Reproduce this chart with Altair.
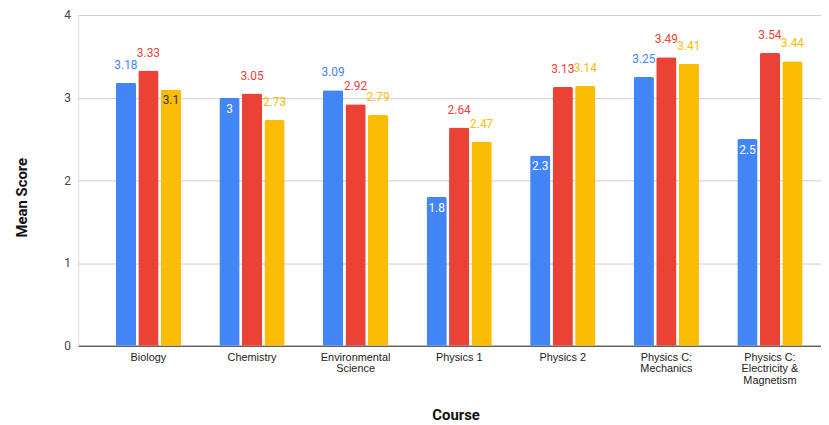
import altair as alt
import pandas as pd

courses = ["Biology", "Chemistry", "Environmental Science", "Physics 1",
           "Physics 2", "Physics C: Mechanics", "Physics C: Electricity & Magnetism"]
wrapped = [["Biology"], ["Chemistry"], ["Environmental", "Science"], ["Physics 1"],
           ["Physics 2"], ["Physics C:", "Mechanics"], ["Physics C:", "Electricity &", "Magnetism"]]
series_names = ["Series 1", "Series 2", "Series 3"]
series1 = [3.18, 3.0, 3.09, 1.8, 2.3, 3.25, 2.5]
series2 = [3.33, 3.05, 2.92, 2.64, 3.13, 3.49, 3.54]
series3 = [3.1, 2.73, 2.79, 2.47, 3.14, 3.41, 3.44]
colors = ["#4285F4", "#EA4335", "#FBBC04"]

# labels drawn inside the bar (course index, series index)
inside = {(1, 0), (3, 0), (4, 0), (6, 0), (0, 2)}

rows = []
for si, vals in enumerate([series1, series2, series3]):
    for ci, v in enumerate(vals):
        rows.append({"Course": courses[ci], "Series": series_names[si], "value": v,
                     "inside": (ci, si) in inside})
df = pd.DataFrame(rows)

# label expression for wrapped x labels
expr = ""
for c, w in zip(courses, wrapped):
    arr = "[" + ",".join("'" + s + "'" for s in w) + "]"
    expr += f"datum.value == '{c}' ? {arr} : "
expr += "datum.value"

x = alt.X("Course:N", sort=courses,
          scale=alt.Scale(paddingInner=0.37, paddingOuter=0.27, align=0.67),
          axis=alt.Axis(title="Course", labelAngle=0, labelExpr=expr, labelFont="Liberation Sans",
                        labelFontSize=11, labelColor="#222222", labelLineHeight=11.5,
                        labelPadding=6, ticks=False, domainColor="#333333",
                        titleFont="Roboto", titleFontSize=15, titleFontWeight="bold",
                        titleColor="#111111", titleX=381, titleY=70, titleBaseline="middle",
                        titleAlign="center"))
xo = alt.XOffset("Series:N", sort=series_names,
                 scale=alt.Scale(paddingInner=0.1, paddingOuter=0.0))
y = alt.Y("value:Q", scale=alt.Scale(domain=[0, 4]),
          axis=alt.Axis(title="Mean Score", values=[0, 1, 2, 3, 4], domain=False, ticks=False,
                        gridColor="#cccccc", labelFont="Roboto", labelFontSize=12,
                        labelColor="#444444", labelPadding=8, titleFont="Roboto",
                        titleFontSize=15, titleFontWeight="bold", titleColor="#111111",
                        titleX=-57, titleY=184, titleAngle=-90, titleAlign="center",
                        titleBaseline="middle"))
color = alt.Color("Series:N", sort=series_names,
                  scale=alt.Scale(domain=series_names, range=colors), legend=None)

bars = alt.Chart(df).mark_bar(cornerRadiusTopLeft=2, cornerRadiusTopRight=2).encode(
    x=x, xOffset=xo, y=y, color=color)

above = alt.Chart(df).transform_filter("!datum.inside").mark_text(
    font="Roboto", fontSize=12, dy=-18, baseline="middle").encode(
    x=x, xOffset=xo, y=y, text=alt.Text("value:Q", format="~g"), color=color)

inner = alt.Chart(df).transform_filter("datum.inside").mark_text(
    font="Roboto", fontSize=12, dy=11, baseline="middle").encode(
    x=x, xOffset=xo, y=y, text=alt.Text("value:Q", format="~g"),
    color=alt.condition("datum.Series == 'Series 3'", alt.value("#333333"), alt.value("#ffffff")))

chart = alt.layer(bars, above, inner).properties(
    width=750, height=334,
    padding={"left": 71, "top": 5, "right": 0, "bottom": 78},
    autosize=alt.AutoSizeParams(type="none"),
).configure_view(stroke=None).configure(background="white")

chart.save("out.html", embed_options={"renderer": "svg", "actions": False})
